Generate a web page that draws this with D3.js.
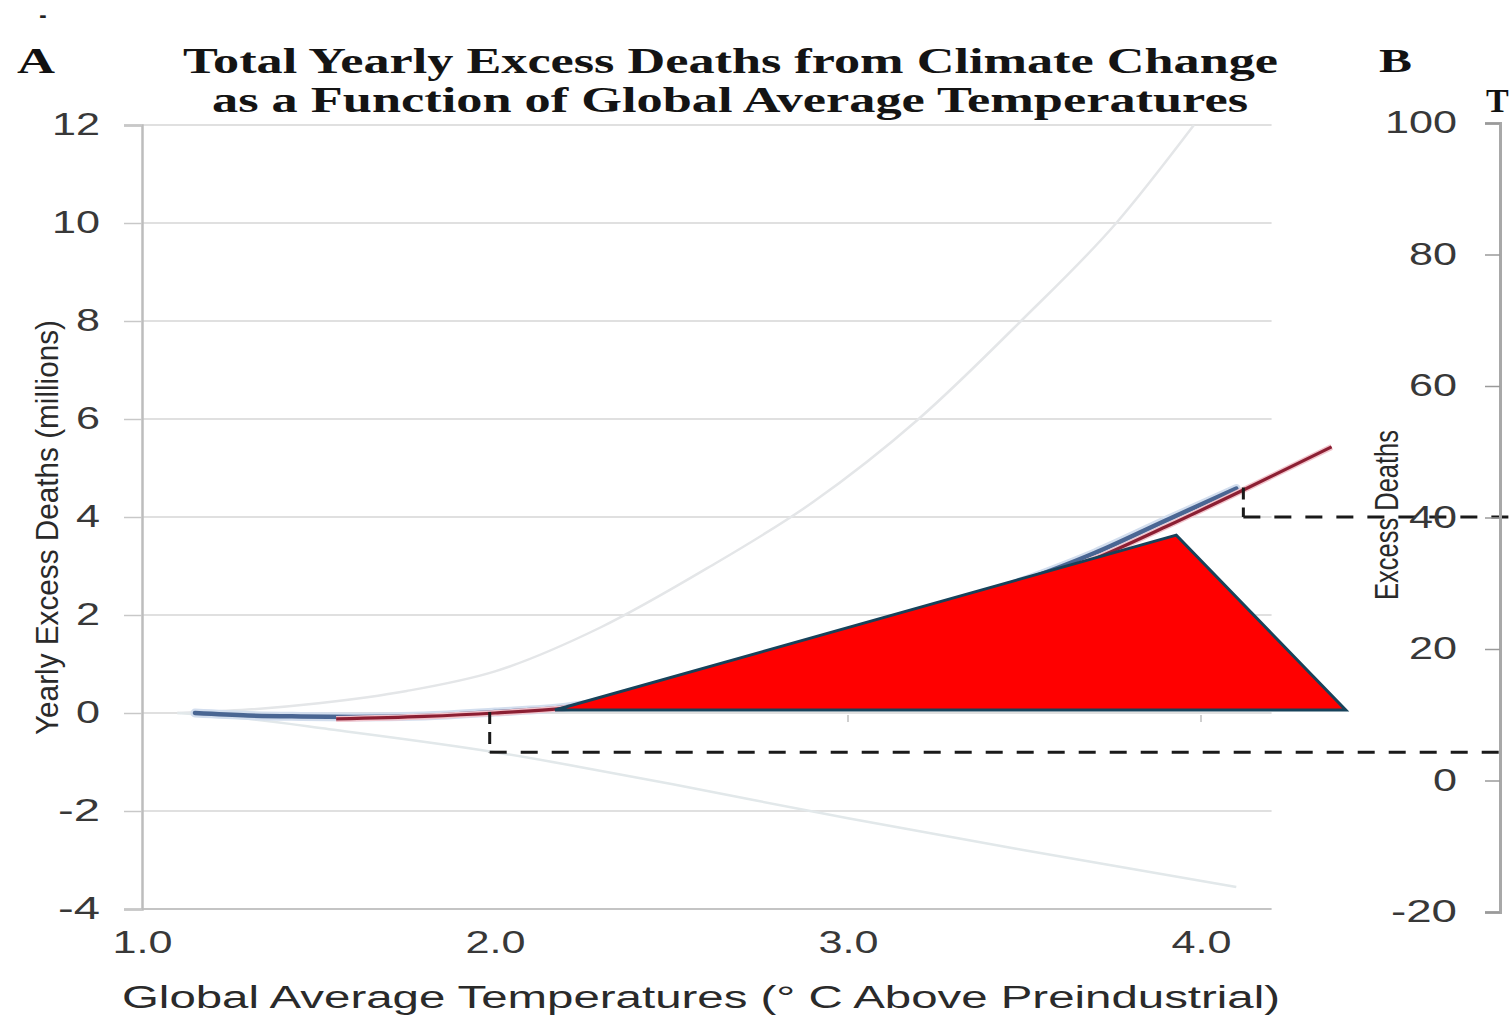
<!DOCTYPE html>
<html>
<head>
<meta charset="utf-8">
<script src="https://cdn.jsdelivr.net/npm/d3@7"></script>
<style>
  html, body { margin: 0; padding: 0; background: #ffffff; }
  svg { display: block; }
</style>
</head>
<body>
<svg id="chart" width="1509" height="1017"></svg>
<script>
// ---------- data ----------
const titleLines = ["Total Yearly Excess Deaths from Climate Change", "as a Function of Global Average Temperatures"];
const xTickValues = [1.0, 2.0, 3.0, 4.0];
const xTickLabels = ["1.0", "2.0", "3.0", "4.0"];
const yTicksA = [-4, -2, 0, 2, 4, 6, 8, 10, 12];
const yTicksB = [-20, 0, 20, 40, 60, 80, 100];

// upper bound curve (light grey)
const upperTemps = [1.1, 1.3, 1.5, 1.75, 2.0, 2.3, 2.6, 2.9, 3.2, 3.49, 3.76, 3.98];
const upperVals  = [0, 0.07, 0.2, 0.45, 0.85, 1.75, 2.95, 4.3, 6.0, 8.0, 10.0, 12.0];
// lower bound curve (light grey)
const lowerTemps = [1.1, 1.3, 1.53, 2.0, 2.24, 2.5, 3.0, 3.5, 4.1];
const lowerVals  = [0, -0.12, -0.33, -0.8, -1.1, -1.45, -2.15, -2.8, -3.55];
// central estimate, blue part
const blueTemps = [1.15, 1.3, 1.45, 1.6, 1.8, 2.0, 2.2, 2.5, 2.8, 3.1, 3.4, 3.7, 3.9, 4.1];
const blueVals  = [0, -0.05, -0.07, -0.08, -0.06, 0.02, 0.12, 0.5, 1.05, 1.75, 2.45, 3.27, 3.93, 4.58];
// central estimate, red part
const redTemps = [1.55, 1.8, 2.0, 2.2, 2.5, 2.8, 3.1, 3.4, 3.7, 3.9, 4.12, 4.37];
const redVals  = [-0.12, -0.07, 0.0, 0.1, 0.45, 1.0, 1.7, 2.4, 3.15, 3.8, 4.55, 5.43];
// red triangle overlay (temperature, deaths in millions)
const triTemps = [2.17, 3.93, 4.41];
const triVals  = [0.06, 3.63, 0.06];
// dashed reference markers: temperature, curve value, level (millions)
const refTemps  = [1.985, 4.12];
const refTops   = [0.02, 4.6];
const refLevels = [-0.8, 4.0];

// ---------- layout ----------
const svg = d3.select("#chart");
const W = 1509;
const x  = d3.scaleLinear().domain([1, 4]).range([142, 1201]);
const yA = d3.scaleLinear().domain([-4, 12]).range([909, 125]);
const yB = d3.scaleLinear().domain([-20, 100]).range([912, 123]);
const xEnd = 4.2;

const sansFont = "'Liberation Sans', Arial, sans-serif";
const serifFont = "'Liberation Serif', 'Times New Roman', serif";
const tickColor = "#383838";

// stretched width of a numeric label as it appears in the picture
function labelWidth(s) {
  let w = 0;
  for (const c of s) w += (c === "." ? 12 : c === "-" ? 18 : 24);
  return w;
}
function fmt(d) { return String(d); }

// stray dash top-left
svg.append("text").attr("x", 43).attr("y", 22).attr("text-anchor", "middle")
  .attr("font-family", sansFont).attr("font-weight", "bold").attr("font-size", 22)
  .attr("fill", "#222").text("-");

// panel letters
svg.append("text").attr("x", 17).attr("y", 73)
  .attr("font-family", serifFont).attr("font-weight", "bold").attr("font-size", 36)
  .attr("fill", "#111").attr("textLength", 38).attr("lengthAdjust", "spacingAndGlyphs").text("A");
svg.append("text").attr("x", 1379).attr("y", 72)
  .attr("font-family", serifFont).attr("font-weight", "bold").attr("font-size", 34)
  .attr("fill", "#111").attr("textLength", 33).attr("lengthAdjust", "spacingAndGlyphs").text("B");
svg.append("text").attr("x", 1486).attr("y", 112)
  .attr("font-family", serifFont).attr("font-weight", "bold").attr("font-size", 34)
  .attr("fill", "#111").text("T");

// title
const titleSpans = [[183, 73, 1095], [212, 112, 1036]];
titleLines.forEach((t, i) => {
  svg.append("text").attr("x", titleSpans[i][0]).attr("y", titleSpans[i][1])
    .attr("font-family", serifFont).attr("font-weight", "bold").attr("font-size", 35)
    .attr("fill", "#141414")
    .attr("textLength", titleSpans[i][2]).attr("lengthAdjust", "spacingAndGlyphs")
    .text(t);
});

// ---------- panel A ----------
const gA = svg.append("g");

// horizontal gridlines
gA.selectAll("line.grid").data(yTicksA).enter().append("line")
  .attr("x1", x(1)).attr("x2", x(xEnd))
  .attr("y1", d => yA(d)).attr("y2", d => yA(d))
  .attr("stroke", d => d === -4 ? "#c4c4c4" : "#d6d6d6")
  .attr("stroke-width", d => d === -4 ? 2 : 1.5);

// left axis with D3
const axisA = d3.axisLeft(yA).tickValues(yTicksA).tickSize(18).tickPadding(24)
  .tickFormat(fmt);
const axA = gA.append("g").attr("transform", `translate(${x(1)},0)`).call(axisA);
axA.select(".domain").attr("stroke", "#bdbdbd").attr("stroke-width", 2.5);
axA.selectAll(".tick line").attr("stroke", "#c8c8c8").attr("stroke-width", 1.5);
axA.selectAll(".tick text").attr("font-family", sansFont).attr("font-size", 31)
  .attr("fill", tickColor)
  .attr("textLength", d => labelWidth(fmt(d))).attr("lengthAdjust", "spacingAndGlyphs");

// bottom tick labels
const axisX = d3.axisBottom(x).tickValues(xTickValues).tickSize(0).tickPadding(22)
  .tickFormat((d, i) => xTickLabels[i]);
const axX = gA.append("g").attr("transform", `translate(0,${yA(-4)})`).call(axisX);
axX.select(".domain").remove();
axX.selectAll(".tick text").attr("font-family", sansFont).attr("font-size", 31)
  .attr("fill", tickColor)
  .attr("textLength", (d, i) => labelWidth(xTickLabels[i])).attr("lengthAdjust", "spacingAndGlyphs");

// small ticks on the zero line
gA.selectAll("line.zt").data([3.0, 4.0]).enter().append("line")
  .attr("x1", d => x(d)).attr("x2", d => x(d))
  .attr("y1", yA(0) + 2).attr("y2", yA(0) + 9)
  .attr("stroke", "#cfcfcf").attr("stroke-width", 2);

// bound curves
const lineGen = d3.line().curve(d3.curveMonotoneX);
const upperPts = upperTemps.map((t, i) => [x(t), yA(upperVals[i])]);
const lowerPts = lowerTemps.map((t, i) => [x(t), yA(lowerVals[i])]);
gA.append("path").attr("d", lineGen(upperPts)).attr("fill", "none")
  .attr("stroke", "#e4e6e8").attr("stroke-width", 2.5);
gA.append("path").attr("d", lineGen(lowerPts)).attr("fill", "none")
  .attr("stroke", "#e2e8ea").attr("stroke-width", 2.5);

// central estimate
const bluePts = blueTemps.map((t, i) => [x(t), yA(blueVals[i])]);
const redPts = redTemps.map((t, i) => [x(t), yA(redVals[i])]);
gA.append("path").attr("d", lineGen(bluePts)).attr("fill", "none")
  .attr("stroke", "#d3deee").attr("stroke-width", 9).attr("stroke-linecap", "round");
gA.append("path").attr("d", lineGen(bluePts)).attr("fill", "none")
  .attr("stroke", "#4a6693").attr("stroke-width", 4.5).attr("stroke-linecap", "round");
gA.append("path").attr("d", lineGen(redPts)).attr("fill", "none")
  .attr("stroke", "#f2c4cc").attr("stroke-width", 6).attr("stroke-linecap", "butt");
gA.append("path").attr("d", lineGen(redPts)).attr("fill", "none")
  .attr("stroke", "#8c1f33").attr("stroke-width", 3.2).attr("stroke-linecap", "butt");

// dashed reference lines
refTemps.forEach((t, i) => {
  gA.append("line")
    .attr("x1", x(t)).attr("x2", x(t))
    .attr("y1", yA(refTops[i])).attr("y2", yA(refLevels[i]))
    .attr("stroke", "#1a1a1a").attr("stroke-width", 3).attr("stroke-dasharray", "12,8");
  gA.append("line")
    .attr("x1", x(t)).attr("x2", W)
    .attr("y1", yA(refLevels[i])).attr("y2", yA(refLevels[i]))
    .attr("stroke", "#1a1a1a").attr("stroke-width", 3).attr("stroke-dasharray", "17,14");
});

// red triangle
const triPts = triTemps.map((t, i) => [x(t), yA(triVals[i])]);
gA.append("path").attr("d", d3.line()(triPts) + "Z")
  .attr("fill", "#ff0000").attr("stroke", "#17425a").attr("stroke-width", 3)
  .attr("stroke-linejoin", "miter");

// axis titles
svg.append("text")
  .attr("transform", `translate(58,${(320 + 735) / 2}) rotate(-90)`)
  .attr("text-anchor", "middle")
  .attr("font-family", sansFont).attr("font-size", 32).attr("fill", "#2a2a2a")
  .attr("textLength", 415).attr("lengthAdjust", "spacingAndGlyphs")
  .text("Yearly Excess Deaths (millions)");
svg.append("text").attr("x", 122).attr("y", 1008)
  .attr("font-family", sansFont).attr("font-size", 31).attr("fill", "#2a2a2a")
  .attr("textLength", 1158).attr("lengthAdjust", "spacingAndGlyphs")
  .text("Global Average Temperatures (° C Above Preindustrial)");

// ---------- panel B ----------
const gB = svg.append("g");
const axisB = d3.axisLeft(yB).tickValues(yTicksB).tickSize(15).tickPadding(28)
  .tickFormat(fmt);
const axB = gB.append("g").attr("transform", "translate(1500,0)").call(axisB);
axB.select(".domain").attr("stroke", "#a8a8a8").attr("stroke-width", 3);
axB.selectAll(".tick line").attr("stroke", "#9a9a9a").attr("stroke-width", 1.5);
axB.selectAll(".tick text").attr("font-family", sansFont).attr("font-size", 31)
  .attr("fill", tickColor)
  .attr("textLength", d => labelWidth(fmt(d))).attr("lengthAdjust", "spacingAndGlyphs");

svg.append("text")
  .attr("transform", `translate(1398,515) rotate(-90)`)
  .attr("text-anchor", "middle")
  .attr("font-family", sansFont).attr("font-size", 34).attr("fill", "#2a2a2a")
  .attr("textLength", 170).attr("lengthAdjust", "spacingAndGlyphs")
  .text("Excess Deaths");
</script>
</body>
</html>
